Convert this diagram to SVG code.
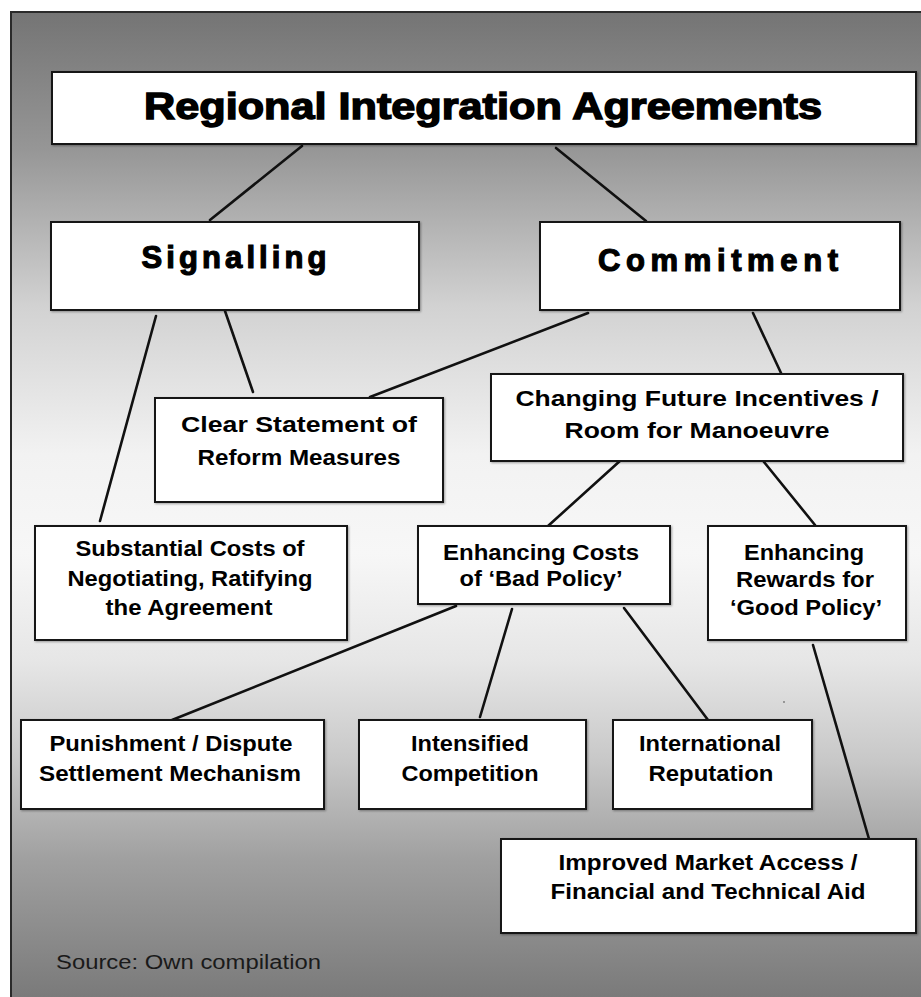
<svg xmlns="http://www.w3.org/2000/svg" width="921" height="997" viewBox="0 0 921 997">
<defs>
<linearGradient id="bg" x1="0" y1="11" x2="0" y2="997" gradientUnits="userSpaceOnUse">
<stop offset="0" stop-color="#747474"/>
<stop offset="0.14" stop-color="#969696"/>
<stop offset="0.30" stop-color="#d2d2d2"/>
<stop offset="0.45" stop-color="#f2f2f2"/>
<stop offset="0.55" stop-color="#f7f7f7"/>
<stop offset="0.66" stop-color="#e6e6e6"/>
<stop offset="0.76" stop-color="#c8c8c8"/>
<stop offset="0.86" stop-color="#a0a0a0"/>
<stop offset="1" stop-color="#7a7a7a"/>
</linearGradient>
<filter id="sh" x="-5%" y="-5%" width="110%" height="115%">
<feDropShadow dx="1" dy="1" stdDeviation="0.8" flood-color="#000" flood-opacity="0.35"/>
</filter>
</defs>
<style>
.box{fill:#fff;stroke:#151515;stroke-width:2}
.t{font-family:"Liberation Sans",Arial,sans-serif;font-weight:bold;font-size:22px;fill:#000;text-anchor:middle}
.big{font-family:"Liberation Sans",Arial,sans-serif;font-weight:bold;fill:#000;text-anchor:middle;stroke:#000}
.ln{stroke:#111;stroke-width:2.6;fill:none;stroke-linecap:round}
.src{font-family:"Liberation Sans",Arial,sans-serif;font-size:20px;fill:#1a1a1a}
</style>
<rect x="0" y="0" width="921" height="997" fill="#fff"/>
<rect x="11" y="12" width="912" height="990" fill="url(#bg)" stroke="#2a2a2a" stroke-width="2"/>

<g id="connectors">
<line class="ln" x1="302" y1="146" x2="210" y2="220"/>
<line class="ln" x1="556" y1="148" x2="646" y2="221"/>
<line class="ln" x1="156" y1="316" x2="100" y2="521"/>
<line class="ln" x1="225" y1="311" x2="253" y2="392"/>
<line class="ln" x1="588" y1="313" x2="370" y2="397"/>
<line class="ln" x1="753" y1="313" x2="781" y2="373"/>
<line class="ln" x1="621" y1="460" x2="548" y2="526"/>
<line class="ln" x1="764" y1="462" x2="815" y2="525"/>
<line class="ln" x1="456" y1="606" x2="172" y2="720"/>
<line class="ln" x1="512" y1="609" x2="480" y2="717"/>
<line class="ln" x1="624" y1="608" x2="708" y2="720"/>
<line class="ln" x1="813" y1="645" x2="869" y2="839"/>
</g>

<g id="n-ria">
<rect class="box" x="52" y="72" width="864" height="72" filter="url(#sh)"/>
<text class="big" x="483" y="119" font-size="36" stroke-width="1.4" textLength="678" lengthAdjust="spacingAndGlyphs">Regional Integration Agreements</text>
</g>
<g id="n-signalling">
<rect class="box" x="51" y="222" width="368" height="88" filter="url(#sh)"/>
<text class="big" x="234" y="268" font-size="31" stroke-width="1.2" textLength="185" lengthAdjust="spacing">Signalling</text>
</g>
<g id="n-commitment">
<rect class="box" x="540" y="222" width="360" height="88" filter="url(#sh)"/>
<text class="big" x="718" y="271" font-size="31" stroke-width="1.2" textLength="240" lengthAdjust="spacing">Commitment</text>
</g>
<g id="n-clear">
<rect class="box" x="155" y="398" width="288" height="104" filter="url(#sh)"/>
<text class="t" x="299" y="432" textLength="236" lengthAdjust="spacingAndGlyphs">Clear Statement of</text>
<text class="t" x="299" y="465" textLength="203" lengthAdjust="spacingAndGlyphs">Reform Measures</text>
</g>
<g id="n-changing">
<rect class="box" x="491" y="374" width="412" height="87" filter="url(#sh)"/>
<text class="t" x="697" y="406" textLength="363" lengthAdjust="spacingAndGlyphs">Changing Future Incentives /</text>
<text class="t" x="697" y="438" textLength="265" lengthAdjust="spacingAndGlyphs">Room for Manoeuvre</text>
</g>
<g id="n-substantial">
<rect class="box" x="35" y="526" width="312" height="114" filter="url(#sh)"/>
<text class="t" x="190" y="556" textLength="229" lengthAdjust="spacingAndGlyphs">Substantial Costs of</text>
<text class="t" x="190" y="586" textLength="245" lengthAdjust="spacingAndGlyphs">Negotiating, Ratifying</text>
<text class="t" x="189" y="615" textLength="167" lengthAdjust="spacingAndGlyphs">the Agreement</text>
</g>
<g id="n-costs">
<rect class="box" x="418" y="526" width="252" height="78" filter="url(#sh)"/>
<text class="t" x="541" y="560" textLength="196" lengthAdjust="spacingAndGlyphs">Enhancing Costs</text>
<text class="t" x="541" y="586" textLength="163" lengthAdjust="spacingAndGlyphs">of ‘Bad Policy’</text>
</g>
<g id="n-rewards">
<rect class="box" x="708" y="526" width="198" height="114" filter="url(#sh)"/>
<text class="t" x="804" y="560" textLength="120" lengthAdjust="spacingAndGlyphs">Enhancing</text>
<text class="t" x="805" y="587" textLength="138" lengthAdjust="spacingAndGlyphs">Rewards for</text>
<text class="t" x="806" y="615" textLength="152" lengthAdjust="spacingAndGlyphs">‘Good Policy’</text>
</g>
<g id="n-punishment">
<rect class="box" x="21" y="720" width="303" height="89" filter="url(#sh)"/>
<text class="t" x="171" y="751" textLength="243" lengthAdjust="spacingAndGlyphs">Punishment / Dispute</text>
<text class="t" x="170" y="781" textLength="262" lengthAdjust="spacingAndGlyphs">Settlement Mechanism</text>
</g>
<g id="n-intensified">
<rect class="box" x="359" y="720" width="227" height="89" filter="url(#sh)"/>
<text class="t" x="470" y="751" textLength="118" lengthAdjust="spacingAndGlyphs">Intensified</text>
<text class="t" x="470" y="781" textLength="137" lengthAdjust="spacingAndGlyphs">Competition</text>
</g>
<g id="n-reputation">
<rect class="box" x="613" y="720" width="199" height="89" filter="url(#sh)"/>
<text class="t" x="710" y="751" textLength="142" lengthAdjust="spacingAndGlyphs">International</text>
<text class="t" x="711" y="781" textLength="125" lengthAdjust="spacingAndGlyphs">Reputation</text>
</g>
<g id="n-market">
<rect class="box" x="501" y="839" width="415" height="94" filter="url(#sh)"/>
<text class="t" x="708" y="870" textLength="299" lengthAdjust="spacingAndGlyphs">Improved Market Access /</text>
<text class="t" x="708" y="899" textLength="315" lengthAdjust="spacingAndGlyphs">Financial and Technical Aid</text>
</g>
<circle cx="784" cy="702" r="0.9" fill="#777"/>
<text class="src" x="56" y="969" textLength="265" lengthAdjust="spacingAndGlyphs">Source: Own compilation</text>
</svg>
